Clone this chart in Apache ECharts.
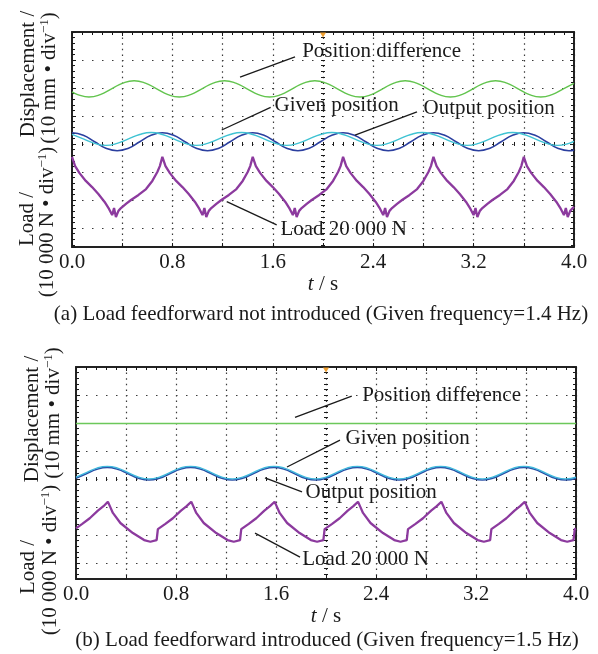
<!DOCTYPE html>
<html><head><meta charset="utf-8">
<script src="https://cdn.jsdelivr.net/npm/echarts@6/dist/echarts.min.js"></script>
<style>html,body{margin:0;padding:0;background:#fff}#c{width:598px;height:654px}</style>
</head><body><div id="c"></div>
<script>
// ---------- data (values in screen divisions, 0 = centre line; time in s) ----------
const xTickLabels = ['0.0','0.8','1.6','2.4','3.2','4.0'];

// Panel (a): given frequency 1.4 Hz
const tA = [0,0.09,0.18,0.27,0.36,0.45,0.54,0.63,
  0.72,0.81,0.9,0.99,1.08,1.17,1.26,1.35,
  1.44,1.53,1.62,1.71,1.8,1.89,1.98,2.07,
  2.16,2.25,2.34,2.43,2.52,2.61,2.7,2.79,
  2.88,2.97,3.06,3.15,3.24,3.33,3.42,3.51,
  3.6,3.69,3.78,3.87,3.96,4.0];
const diffA_t = [0,0.045,0.135,0.225,0.315,0.405,0.495,0.585,0.675,
  0.765,0.855,0.945,1.035,1.125,1.215,1.305,1.395,
  1.485,1.575,1.665,1.755,1.845,1.935,2.025,2.115,
  2.205,2.295,2.385,2.475,2.565,2.655,2.745,2.835,
  2.925,3.015,3.105,3.195,3.285,3.375,3.465,3.555,
  3.645,3.735,3.825,3.915,4.0];
const diffA = [1.86,1.765,1.68,1.765,1.97,2.175,2.26,2.175,1.97,
  1.765,1.68,1.765,1.97,2.175,2.26,2.175,1.97,
  1.765,1.68,1.765,1.97,2.175,2.26,2.175,1.97,
  1.765,1.68,1.765,1.97,2.175,2.26,2.175,1.97,
  1.765,1.68,1.765,1.97,2.175,2.26,2.175,1.97,
  1.765,1.68,1.765,1.97,2.165];
const outputA = [0.40,0.31,0.08,-0.15,-0.24,-0.15,0.08,0.31,
  0.40,0.31,0.08,-0.15,-0.24,-0.15,0.08,0.31,
  0.40,0.31,0.08,-0.15,-0.24,-0.15,0.08,0.31,
  0.40,0.31,0.08,-0.15,-0.24,-0.15,0.08,0.31,
  0.40,0.31,0.08,-0.15,-0.24,-0.15,0.08,0.31,
  0.40,0.31,0.08,-0.15,-0.24,-0.22];
const givenA = [0.34,0.18,0.02,-0.05,0.02,0.18,0.34,0.41,
  0.34,0.18,0.02,-0.05,0.02,0.18,0.34,0.41,
  0.34,0.18,0.02,-0.05,0.02,0.18,0.34,0.41,
  0.34,0.18,0.02,-0.05,0.02,0.18,0.34,0.41,
  0.34,0.18,0.02,-0.05,0.02,0.18,0.34,0.41,
  0.34,0.18,0.02,-0.05,0.02,0.09];
const loadA_t = [
  0,0.025,0.06,0.11,0.16,0.21,0.26,0.295,0.32,0.335,0.35,0.37,0.39,0.43,0.47,0.53,0.59,0.64,0.68,0.70,
  0.72,0.745,0.78,0.83,0.88,0.93,0.98,1.015,1.04,1.055,1.07,1.09,1.11,1.15,1.19,1.25,1.31,1.36,1.40,1.42,
  1.44,1.465,1.5,1.55,1.6,1.65,1.7,1.735,1.76,1.775,1.79,1.81,1.83,1.87,1.91,1.97,2.03,2.08,2.12,2.14,
  2.16,2.185,2.22,2.27,2.32,2.37,2.42,2.455,2.48,2.495,2.51,2.53,2.55,2.59,2.63,2.69,2.75,2.8,2.84,2.86,
  2.88,2.905,2.94,2.99,3.04,3.09,3.14,3.175,3.2,3.215,3.23,3.25,3.27,3.31,3.35,3.41,3.47,3.52,3.56,3.58,
  3.6,3.625,3.66,3.71,3.76,3.81,3.86,3.895,3.92,3.935,3.95,3.97,3.99,4.0];
const loadA_v = [
  -0.46,-0.79,-1.04,-1.32,-1.54,-1.79,-2.07,-2.32,-2.54,-2.29,-2.61,-2.39,-2.29,-2.14,-2.00,-1.82,-1.61,-1.32,-1.00,-0.79,
  -0.46,-0.79,-1.04,-1.32,-1.54,-1.79,-2.07,-2.32,-2.54,-2.29,-2.61,-2.39,-2.29,-2.14,-2.00,-1.82,-1.61,-1.32,-1.00,-0.79,
  -0.46,-0.79,-1.04,-1.32,-1.54,-1.79,-2.07,-2.32,-2.54,-2.29,-2.61,-2.39,-2.29,-2.14,-2.00,-1.82,-1.61,-1.32,-1.00,-0.79,
  -0.46,-0.79,-1.04,-1.32,-1.54,-1.79,-2.07,-2.32,-2.54,-2.29,-2.61,-2.39,-2.29,-2.14,-2.00,-1.82,-1.61,-1.32,-1.00,-0.79,
  -0.46,-0.79,-1.04,-1.32,-1.54,-1.79,-2.07,-2.32,-2.54,-2.29,-2.61,-2.39,-2.29,-2.14,-2.00,-1.82,-1.61,-1.32,-1.00,-0.79,
  -0.46,-0.79,-1.04,-1.32,-1.54,-1.79,-2.07,-2.32,-2.54,-2.29,-2.61,-2.39,-2.29,-2.25];

// Panel (b): given frequency 1.5 Hz
const tB = [0,0.083,0.167,0.25,0.333,0.417,0.5,0.583,
  0.667,0.75,0.833,0.917,1.0,1.083,1.167,1.25,
  1.333,1.417,1.5,1.583,1.667,1.75,1.833,1.917,
  2.0,2.083,2.167,2.25,2.333,2.417,2.5,2.583,
  2.667,2.75,2.833,2.917,3.0,3.083,3.167,3.25,
  3.333,3.417,3.5,3.583,3.667,3.75,3.833,3.917,
  4.0];
const outputB = [0.03,0.19,0.35,0.415,0.35,0.19,0.03,-0.035,
  0.03,0.19,0.35,0.415,0.35,0.19,0.03,-0.035,
  0.03,0.19,0.35,0.415,0.35,0.19,0.03,-0.035,
  0.03,0.19,0.35,0.415,0.35,0.19,0.03,-0.035,
  0.03,0.19,0.35,0.415,0.35,0.19,0.03,-0.035,
  0.03,0.19,0.35,0.415,0.35,0.19,0.03,-0.035,
  0.03];
const givenB = [0.07,0.23,0.39,0.45,0.39,0.23,0.07,0.005,
  0.07,0.23,0.39,0.45,0.39,0.23,0.07,0.005,
  0.07,0.23,0.39,0.45,0.39,0.23,0.07,0.005,
  0.07,0.23,0.39,0.45,0.39,0.23,0.07,0.005,
  0.07,0.23,0.39,0.45,0.39,0.23,0.07,0.005,
  0.07,0.23,0.39,0.45,0.39,0.23,0.07,0.005,
  0.07];
const diffB_t = [0, 4.0];
const diffB_v = [1.98, 1.98];
const loadB_t = [0,0.05,0.11,0.175,0.22,
  0.255,0.27,0.295,0.355,0.455,0.545,0.595,0.645,0.655,0.715,0.775,0.84,0.885,
  0.922,0.937,0.962,1.022,1.122,1.212,1.262,1.312,1.322,1.382,1.442,1.507,1.552,
  1.589,1.604,1.629,1.689,1.789,1.879,1.929,1.979,1.989,2.049,2.109,2.174,2.219,
  2.256,2.271,2.296,2.356,2.456,2.546,2.596,2.646,2.656,2.716,2.776,2.841,2.886,
  2.923,2.938,2.963,3.023,3.123,3.213,3.263,3.313,3.323,3.383,3.443,3.508,3.553,
  3.59,3.605,3.63,3.69,3.79,3.88,3.93,3.98,3.99,4.0];
const loadB_v = [-1.76,-1.60,-1.40,-1.13,-0.97,
  -0.81,-0.96,-1.21,-1.57,-1.93,-2.18,-2.24,-2.18,-1.79,-1.60,-1.40,-1.13,-0.97,
  -0.81,-0.96,-1.21,-1.57,-1.93,-2.18,-2.24,-2.18,-1.79,-1.60,-1.40,-1.13,-0.97,
  -0.81,-0.96,-1.21,-1.57,-1.93,-2.18,-2.24,-2.18,-1.79,-1.60,-1.40,-1.13,-0.97,
  -0.81,-0.96,-1.21,-1.57,-1.93,-2.18,-2.24,-2.18,-1.79,-1.60,-1.40,-1.13,-0.97,
  -0.81,-0.96,-1.21,-1.57,-1.93,-2.18,-2.24,-2.18,-1.79,-1.60,-1.40,-1.13,-0.97,
  -0.81,-0.96,-1.21,-1.57,-1.93,-2.18,-2.24,-2.18,-1.79,-1.77];

// annotation anchors (data units: [t, divisions])
const notesA = [
  {text:'Position difference', from:[1.339,2.39], to:[1.777,3.11], at:[1.83,3.30]},
  {text:'Given position', from:[1.193,0.50], to:[1.583,1.31], at:[1.61,1.39]},
  {text:'Output position', from:[2.255,0.32], to:[2.749,1.15], at:[2.797,1.27]},
  {text:'Load 20 000 N', from:[1.233,-2.06], to:[1.631,-2.89], at:[1.657,-3.07]}
];
const notesB = [
  {text:'Position difference', from:[1.752,2.20], to:[2.206,2.96], at:[2.285,3.00]},
  {text:'Given position', from:[1.688,0.43], to:[2.112,1.39], at:[2.152,1.45]},
  {text:'Output position', from:[1.512,0.04], to:[1.808,-0.46], at:[1.832,-0.475]},
  {text:'Load 20 000 N', from:[1.432,-1.93], to:[1.792,-2.79], at:[1.806,-2.89]}
];

// ---------- styling / layout ----------
const FONT = "'Liberation Serif','Times New Roman',serif";
const INK = '#1a1a1a';
const DOT = '#3a3a3a';
const FS = 21;
const zip = (t, v) => t.map((x, i) => [x, v[i]]);
const fmtX = v => { const s = v.toFixed(1); return xTickLabels.indexOf(s) >= 0 && Math.abs(v - parseFloat(s)) < 1e-6 ? s : ''; };

const panels = [
  { box:{left:72, top:32, width:502, height:215}, vMin:-3.68, vMax:4, tC:2.0, nameGap:20,
    diff: zip(diffA_t, diffA), given: zip(tA, givenA), output: zip(tA, outputA), load: zip(loadA_t, loadA_v),
    notes: notesA, colors:{diff:'#62c44e', given:'#3fc3d3', output:'#2b3f9f', load:'#8c3a9e'} },
  { box:{left:76, top:367, width:500, height:212}, vMin:-3.57, vMax:4, tC:2.0, nameGap:22,
    diff: zip(diffB_t, diffB_v), given: zip(tB, givenB), output: zip(tB, outputB), load: zip(loadB_t, loadB_v),
    notes: notesB, colors:{diff:'#6cc85a', given:'#3fb8dc', output:'#2a4fa6', load:'#8c3a9e'} }
];

const grids = [], xAxes = [], yAxes = [], series = [];
const noLine = {show:false, onZero:false};

panels.forEach(P => {
  const g0 = grids.length;
  const span = P.vMax - P.vMin;
  const cy = P.box.top + P.box.height * P.vMax / span;
  const cx = P.box.left + P.box.width * P.tC / 4;
  grids.push(Object.assign({outerBoundsMode:'none', containLabel:false}, P.box));
  grids.push({left:P.box.left, top:cy - 2, width:P.box.width, height:4, outerBoundsMode:'none'});
  grids.push({left:cx - 2, top:P.box.top, width:4, height:P.box.height, outerBoundsMode:'none'});
  const xi = xAxes.length, yi = yAxes.length;
  const border = {show:true, onZero:false, lineStyle:{color:'#222', width:2}};
  // x axes
  xAxes.push({gridIndex:g0, type:'value', min:0, max:4, interval:0.4, position:'bottom',
    axisLine:border, axisTick:{show:true, inside:true, length:4, lineStyle:{color:INK, width:1}},
    minorTick:{show:false},
    axisLabel:{show:true, margin:5, color:INK, fontFamily:FONT, fontSize:FS, formatter:fmtX},
    splitLine:{show:true, lineStyle:{color:DOT, width:1.2, type:[1.5,4.1]}},
    name:'{i|t} / s', nameLocation:'middle', nameGap:P.nameGap,
    nameTextStyle:{color:INK, fontFamily:FONT, fontSize:FS, rich:{i:{fontStyle:'italic', fontFamily:FONT, fontSize:FS, color:INK}}}});
  xAxes.push({gridIndex:g0, type:'value', min:0, max:4, interval:0.4, position:'top',
    axisLine:border, axisTick:{show:true, inside:true, length:4, lineStyle:{color:INK}},
    minorTick:{show:true, splitNumber:5, length:3, lineStyle:{color:INK}},
    axisLabel:{show:false}, splitLine:{show:false}});
  xAxes.push({gridIndex:g0+1, type:'value', min:0, max:4, interval:0.4, position:'bottom',
    axisLine:noLine, axisTick:{show:true, inside:true, length:4, lineStyle:{color:INK}},
    minorTick:{show:true, splitNumber:5, length:4, lineStyle:{color:INK}},
    axisLabel:{show:false}, splitLine:{show:false}});
  xAxes.push({gridIndex:g0+2, type:'value', min:0, max:1, show:false, axisLine:noLine, splitLine:{show:false}});
  // y axes
  yAxes.push({gridIndex:g0, type:'value', min:P.vMin, max:P.vMax, show:false, axisLine:noLine, splitLine:{show:false}});
  yAxes.push({gridIndex:g0, type:'value', inverse:true, min:0, max:span, interval:1, position:'left',
    axisLine:border, axisTick:{show:true, inside:true, length:4, lineStyle:{color:INK}},
    minorTick:{show:true, splitNumber:5, length:3, lineStyle:{color:INK}},
    axisLabel:{show:false}, splitLine:{show:true, lineStyle:{color:DOT, width:1.2, type:[1.5,8.5]}}});
  yAxes.push({gridIndex:g0, type:'value', inverse:true, min:0, max:span, interval:1, position:'right',
    axisLine:border, axisTick:{show:true, inside:true, length:4, lineStyle:{color:INK}},
    minorTick:{show:true, splitNumber:5, length:3, lineStyle:{color:INK}},
    axisLabel:{show:false}, splitLine:{show:false}});
  yAxes.push({gridIndex:g0+1, type:'value', min:0, max:1, show:false, axisLine:noLine, splitLine:{show:false}});
  yAxes.push({gridIndex:g0+2, type:'value', inverse:true, min:0, max:span, interval:1, position:'left',
    axisLine:noLine, axisTick:{show:true, inside:true, length:4, lineStyle:{color:INK}},
    minorTick:{show:true, splitNumber:5, length:4, lineStyle:{color:INK}},
    axisLabel:{show:false}, splitLine:{show:false}});

  const base = {type:'line', xAxisIndex:xi, yAxisIndex:yi, showSymbol:false, symbol:'none', silent:true, animation:false, z:3};
  const C = P.colors;
  series.push(Object.assign({}, base, {name:'Position difference', data:P.diff, smooth:0.5, lineStyle:{color:C.diff, width:1.4}}));
  series.push(Object.assign({}, base, {name:'Output position', data:P.output, smooth:0.5, lineStyle:{color:C.output, width:1.6}}));
  series.push(Object.assign({}, base, {name:'Given position', data:P.given, smooth:0.5, lineStyle:{color:C.given, width:1.4}}));
  series.push(Object.assign({}, base, {name:'Load', data:P.load, smooth:false, lineStyle:{color:C.load, width:2.3},
    markLine:{silent:true, animation:false, symbol:['none','none'], label:{show:false},
      lineStyle:{color:INK, width:1.3, type:'solid'},
      data:P.notes.map(n => [{coord:n.from}, {coord:n.to}])},
    markPoint:{silent:true, animation:false,
      data:P.notes.map(n => ({name:n.text, coord:n.at, symbol:'circle', symbolSize:1,
        itemStyle:{color:'rgba(0,0,0,0)'},
        label:{show:true, position:'right', distance:0, formatter:'{b}', fontFamily:FONT, fontSize:FS, color:INK}}))
      .concat([{name:'trig', coord:[P.tC, P.vMax], symbol:'triangle', symbolRotate:180, symbolSize:[6,5], symbolOffset:[0,3],
        itemStyle:{color:'#f0a030'}, label:{show:false}}])}
  }));
});

// axis titles & captions
const rich = {s:{fontSize:13, fontFamily:FONT, fill:INK, verticalAlign:'top', lineHeight:22}};
function vtext(text, x, y) {
  return {type:'text', x, y, rotation:Math.PI/2, silent:true,
    style:{text, fill:INK, fontFamily:FONT, fontSize:FS, align:'center', verticalAlign:'middle',
      textAlign:'center', textVerticalAlign:'middle', rich}};
}
function htext(text, x, y) {
  return {type:'text', x, y, silent:true,
    style:{text, fill:INK, fontFamily:FONT, fontSize:FS, align:'center', verticalAlign:'middle',
      textAlign:'center', textVerticalAlign:'middle'}};
}
const graphics = [
  vtext('Displacement /', 28, 74), vtext('(10 mm • div{s|−1})', 49, 78),
  vtext('Load /', 27, 219), vtext('(10 000 N • div{s|−1})', 47, 222),
  vtext('Displacement /', 32, 419), vtext('(10 mm • div{s|−1})', 53, 413),
  vtext('Load /', 28, 567), vtext('(10 000 N • div{s|−1})', 50, 560),
  htext('(a) Load feedforward not introduced (Given frequency=1.4 Hz)', 321, 314),
  htext('(b) Load feedforward introduced (Given frequency=1.5 Hz)', 327, 640)
];

const chart = echarts.init(document.getElementById('c'), null, {renderer:'canvas'});
chart.setOption({
  animation:false, backgroundColor:'#fff',
  grid:grids, xAxis:xAxes, yAxis:yAxes, series:series, graphic:graphics
});
</script></body></html>
